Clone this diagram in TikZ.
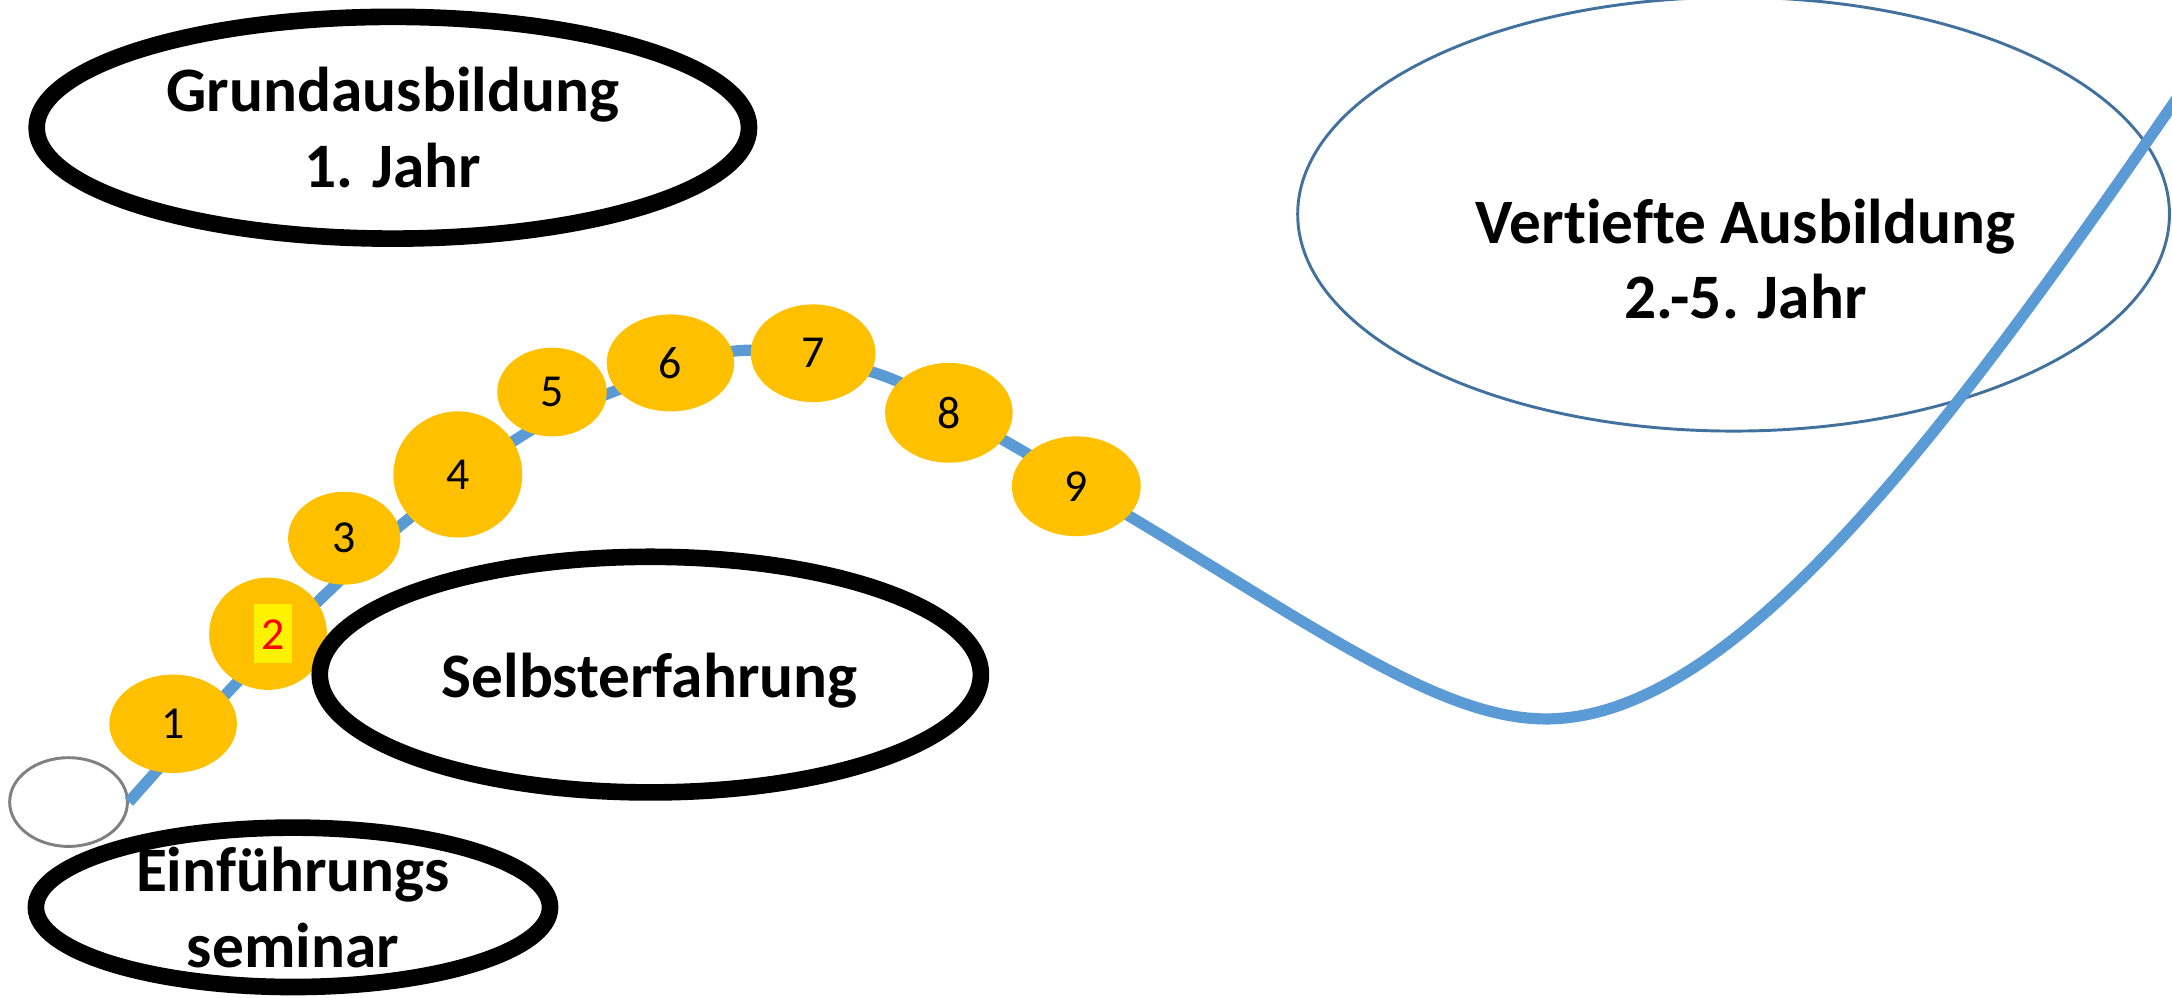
\documentclass[tikz,border=0pt]{standalone}
\usepackage{fontspec}
\setmainfont{Carlito}[Ligatures=NoCommon]
\usetikzlibrary{shapes.geometric}

\definecolor{gold}{HTML}{FFC000}
\definecolor{pathblue}{HTML}{5B9BD5}
\definecolor{ringblue}{HTML}{41719C}

\newcommand{\hlnum}[1]{{\setlength{\fboxsep}{0pt}\hspace{2.2pt}\colorbox{yellow}{\rule[-2.95pt]{0pt}{12.2pt}\hspace{1.5pt}\textcolor{red}{#1}\hspace{1.5pt}}}}

\tikzset{
  ring/.style={ellipse,draw=black,line width=0.12cm,inner sep=0pt},
  thinring/.style={ellipse,draw=ringblue,line width=0.6pt,inner sep=0pt},
  startring/.style={ellipse,draw=black!50,line width=0.6pt,inner sep=0pt},
  ball/.style={ellipse,fill=gold,inner sep=0pt,font=\fontsize{9.4}{11}\selectfont},
  heading/.style={align=center,inner sep=0pt,font=\fontsize{13}{15.5}\selectfont\bfseries},
}

\begin{document}
\begin{tikzpicture}[x=0.01cm,y=-0.01cm]
  \useasboundingbox (0,0) rectangle (1568,720);

  % start marker and later years
  \node[startring,minimum width=0.85cm,minimum height=0.64cm] (start) at (49.5,579) {};
  \node[thinring,minimum width=6.29cm,minimum height=3.13cm] (vert) at (1251.5,154.6) {};

  % the way through the training
  \draw[pathblue,line width=2.3pt] plot[smooth,tension=0.55] coordinates {
    (start.east) (167,497) (236,428) (292,377) (376,315) (442,283) (535,253)
    (637,271) (732,322) (811,370)}
    .. controls (950,453) and (1040,519) .. (1116,519)
    .. controls (1250,519) and (1400,320) .. (1575,66);

  % modules
  \foreach \n/\x/\y/\w/\h/\txt in {1/125/522.5/92/71/1, 2/193.5/457.5/85/81/\hlnum{2},
      3/248.5/388.5/81/67/3, 4/330.5/342.5/93/91/4, 5/398.5/283/79/64/5,
      6/484/262/92/70/6, 7/587/255/90/70.5/7, 8/685/298/92/72/8, 9/777/351/93/72/9}
    \node[ball,minimum width=\w*0.1mm,minimum height=\h*0.1mm] (ball\n) at (\x,\y) {\txt};

  % phases
  \node[ring,minimum width=5.14cm,minimum height=1.6cm] (grund) at (283.6,92.2) {};
  \node[heading] (grundtext) at (grund) {Grundausbildung\\1. Jahr};

  \node[ring,minimum width=4.77cm,minimum height=1.70cm] (selbst) at (469.5,487) {};
  \node[heading] (selbsttext) at (469,491) {Selbsterfahrung};

  \node[ring,minimum width=3.71cm,minimum height=1.15cm] (einf) at (211.5,655) {};
  \node[heading] (einftext) at (einf) {Einführungs\\seminar};

  \node[heading] (verttext) at (1260,187) {Vertiefte Ausbildung\\2.-5. Jahr};
\end{tikzpicture}
\end{document}
